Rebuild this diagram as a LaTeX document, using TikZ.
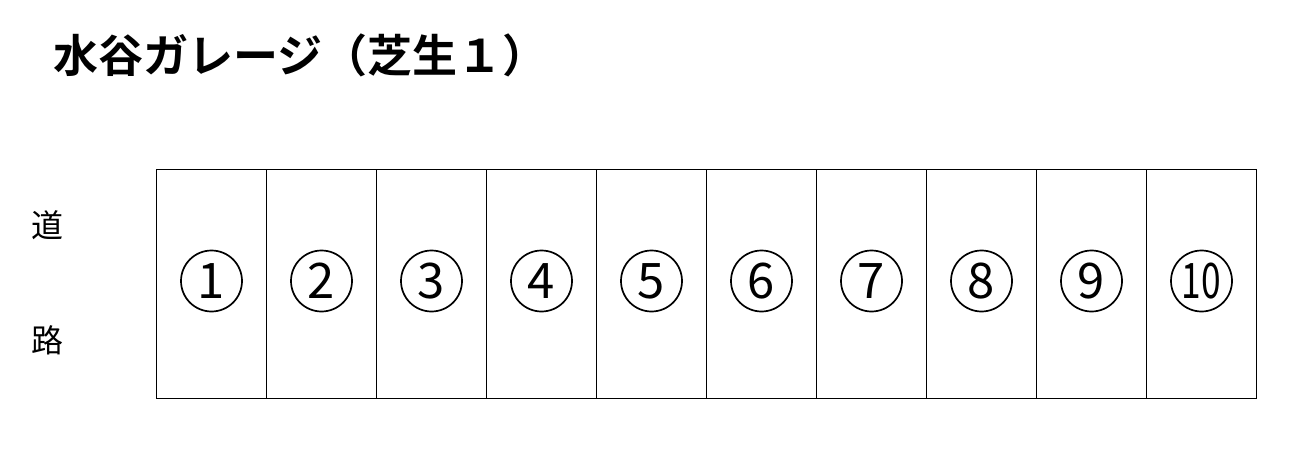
\documentclass[tikz,border=0pt]{standalone}
\usepackage{fontspec}
\newfontfamily\jp{Noto Sans CJK JP}
\newfontfamily\jpb{Noto Sans CJK JP Bold}
\begin{document}
\begin{tikzpicture}[x=1pt,y=-1pt,
  cell/.style={draw=black,line width=1pt,minimum width=110pt,minimum height=228pt,inner sep=0pt,outer sep=0pt},
  num/.style={draw=black,circle,line width=1.7pt,minimum size=61pt,inner sep=0pt,font=\jp\fontsize{49}{49}\selectfont},
  road/.style={font=\jp\fontsize{32}{32}\selectfont,inner sep=0pt},
  title/.style={font=\jpb\fontsize{45}{45}\selectfont,inner sep=0pt,anchor=west}]
\useasboundingbox (0,0) rectangle (1300,457);
\fill[white] (0,0) rectangle (1300,457);
\node[title] (t) at (53,55) {水谷ガレージ（芝生１）};
\node[road] (r1) at (47,225) {道};
\node[road] (r2) at (47,340) {路};
\foreach \i in {1,...,9}{
  \node[cell] (c\i) at ({156.5+110*(\i-0.5)},284) {};
  \node[num] (n\i) at ({156.5+110*(\i-0.5)},281) {\raisebox{-1pt}{\i}};
}
\node[cell] (c10) at ({156.5+110*9.5},284) {};
\node[num] (n10) at ({156.5+110*9.5},281) {\raisebox{-1pt}{\scalebox{0.72}[1]{10}}};
\end{tikzpicture}
\end{document}
